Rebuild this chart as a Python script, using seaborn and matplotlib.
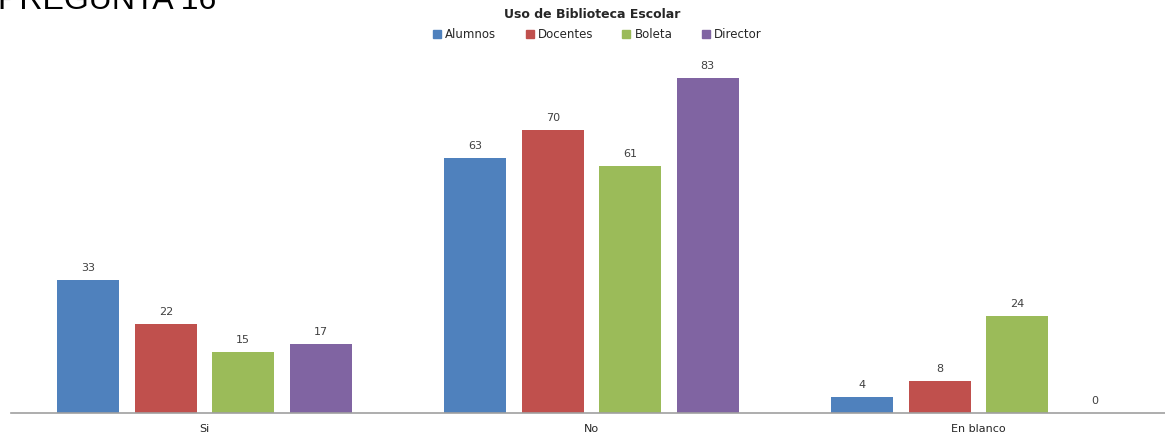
import pandas as pd
import matplotlib.pyplot as plt
import seaborn as sns

# datos del grafico
categorias = ['Si', 'No', 'En blanco']
grupos = ['Alumnos', 'Docentes', 'Boleta', 'Director']
alumnos = [33, 63, 4]
docentes = [22, 70, 8]
boleta = [15, 61, 24]
director = [17, 83, 0]
colores = ['#4F81BD', '#C0504D', '#9BBB59', '#8064A2']

filas = []
for grupo, valores in zip(grupos, [alumnos, docentes, boleta, director]):
    for cat, v in zip(categorias, valores):
        filas.append({'categoria': cat, 'grupo': grupo, 'valor': v})
df = pd.DataFrame(filas)

sns.set_style('white')
plt.rcParams['font.family'] = ['DejaVu Sans']

fig = plt.figure(figsize=(11.65, 4.36), dpi=100)
ax = fig.add_axes([11 / 1165, 23 / 436, 1161 / 1165, 365 / 436])

sns.barplot(data=df, x='categoria', y='valor', hue='grupo', order=categorias,
            hue_order=grupos, palette=colores, width=0.8, gap=0.2,
            saturation=1, linewidth=0, ax=ax, legend=False)

for cont in ax.containers:
    ax.bar_label(cont, padding=5, fontsize=8, color='#404040')

ax.set_ylim(0, 90.3)
ax.set_xlabel('')
ax.set_ylabel('')
ax.set_yticks([])
ax.tick_params(axis='x', length=0, labelsize=8, colors='#262626', pad=8)
for s in ['top', 'right', 'left']:
    ax.spines[s].set_visible(False)
ax.spines['bottom'].set_color('#A0A0A0')
ax.spines['bottom'].set_linewidth(1.2)

# titulo y leyenda
fig.text(592 / 1165, 1 - 15 / 436, 'Uso de Biblioteca Escolar', ha='center',
         va='center', fontsize=9, fontweight='bold', color='#262626')
handles = [plt.Line2D([], [], marker='s', linestyle='', markersize=6,
                      color=c) for c in colores]
fig.legend(handles, grupos, loc='center', bbox_to_anchor=(597 / 1165, 1 - 35 / 436),
           ncol=4, frameon=False, fontsize=8.5, handletextpad=0.3,
           columnspacing=2.4, handlelength=0.8)

# encabezado recortado (en la referencia solo se ve la parte de abajo)
fig.text(-2 / 1165, 1 - 9 / 436, 'PREGUNTA 16', ha='left', va='baseline',
         fontsize=23, family='Liberation Sans', color='black')

fig.savefig('out.png', dpi=100)
